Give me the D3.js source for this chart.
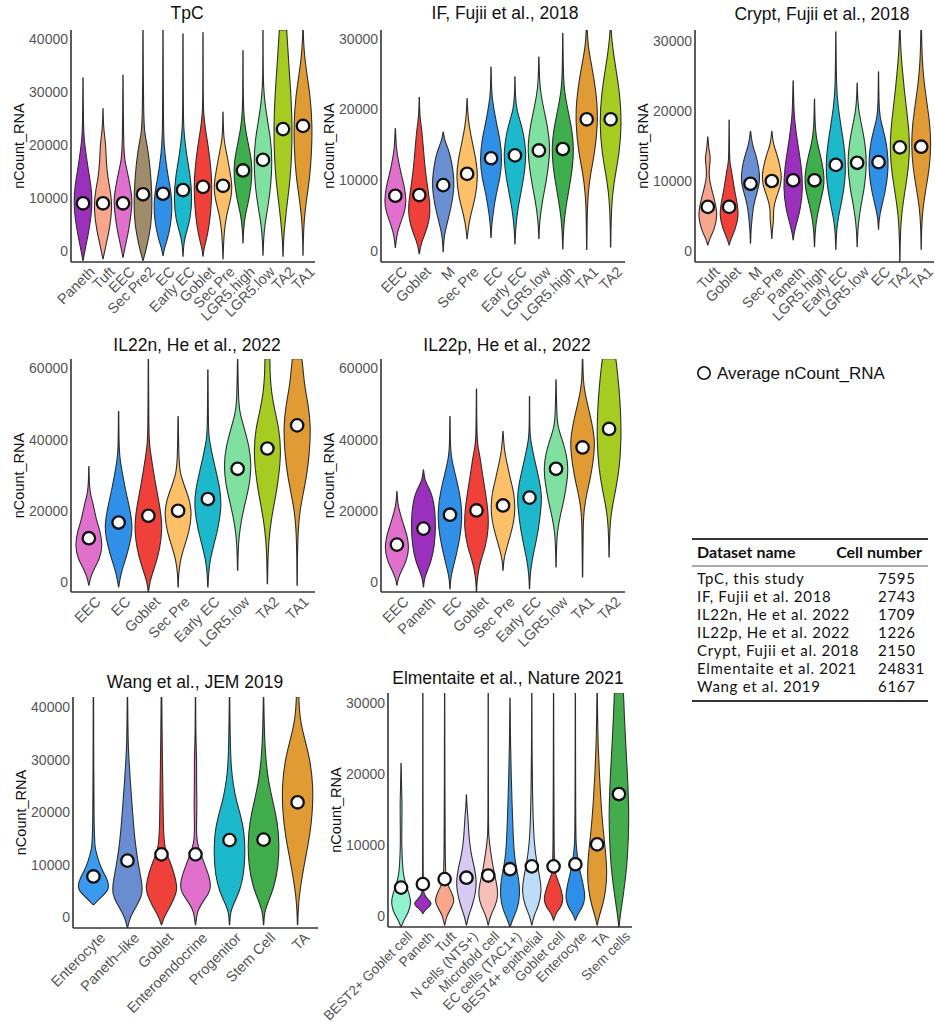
<!DOCTYPE html>
<html>
<head>
<meta charset="utf-8">
<script src="https://cdn.jsdelivr.net/npm/d3@7"></script>
<style>
  body { margin: 0; background: #fff; }
</style>
</head>
<body>
<div id="chart"></div>
<script>
// ---- data ----
// each violin: list of [nCount_RNA, relative half-width]

const tpcCells = ["Paneth", "Tuft", "EEC", "Sec Pre2", "EC", "Early EC", "Goblet", "Sec Pre", "LGR5.high", "LGR5.low", "TA2", "TA1"];
const tpcMeans = [9000, 9000, 9000, 10700, 10800, 11500, 12100, 12300, 15200, 17200, 23000, 23600];
const tpcShapes = [
  [[-1800,0],[0,0.2],[3000,0.55],[6000,0.85],[9000,1],[12000,0.9],[15000,0.6],[18000,0.35],[21000,0.12],[24000,0.04],[32700,0.01]],
  [[-1500,0],[1000,0.3],[4000,0.7],[8000,1],[11000,0.85],[14000,0.5],[17000,0.35],[20000,0.3],[22000,0.15],[24000,0.04],[26900,0.01]],
  [[-1200,0],[1000,0.25],[4000,0.65],[8000,0.95],[10000,1],[13000,0.7],[15500,0.4],[17000,0.2],[20000,0.05],[33200,0.01]],
  [[-1800,0],[1000,0.45],[5000,0.9],[9000,1],[13000,0.9],[17000,0.7],[20000,0.45],[22000,0.2],[25000,0.05],[41700,0.01]],
  [[-900,0],[500,0.15],[2000,0.45],[5000,0.85],[8000,1],[11000,0.9],[14000,0.55],[17000,0.3],[20000,0.12],[23000,0.04],[41700,0.01]],
  [[-1000,0],[1500,0.08],[3500,0.35],[6000,0.8],[10000,1],[14000,0.8],[17000,0.5],[20000,0.25],[23000,0.08],[26000,0.03],[41000,0.01]],
  [[-1000,0],[500,0.1],[3000,0.5],[7000,0.85],[12000,1],[16000,0.85],[20000,0.55],[23000,0.25],[26000,0.06],[29000,0.02],[41200,0.01]],
  [[-1500,0],[1000,0.05],[4000,0.15],[7000,0.4],[10000,0.9],[12500,1],[15000,0.75],[18000,0.45],[20000,0.2],[22000,0.05],[26200,0.01]],
  [[1500,0],[4000,0.05],[7000,0.25],[10000,0.7],[14000,1],[17000,0.95],[20000,0.6],[23000,0.25],[26000,0.07],[30000,0.02],[37800,0.01]],
  [[-800,0],[2000,0.05],[5000,0.2],[8000,0.5],[12000,0.85],[17000,1],[21000,0.85],[25000,0.45],[28000,0.2],[31000,0.06],[34000,0.02],[41700,0.01]],
  [[-1000,0],[2000,0.05],[5000,0.2],[9000,0.45],[13000,0.75],[18000,0.95],[24000,1],[30000,0.85],[36000,0.6],[41700,0.4]],
  [[-800,0],[2000,0.03],[6000,0.12],[10000,0.4],[14000,0.75],[19000,0.95],[24000,1],[29000,0.8],[33000,0.45],[37000,0.15],[40000,0.05],[41700,0.03]]
];

const ifCells = ["EEC", "Goblet", "M", "Sec Pre", "EC", "Early EC", "LGR5.low", "LGR5.high", "TA1", "TA2"];
const ifMeans = [7800, 7900, 9300, 10900, 13100, 13500, 14200, 14400, 18600, 18600];
const ifShapes = [
  [[500,0],[2000,0.1],[3500,0.35],[5500,0.85],[7000,1],[9000,0.85],[11000,0.5],[13000,0.25],[14500,0.08],[17300,0.01]],
  [[-400,0],[1000,0.15],[2500,0.55],[4500,0.95],[6500,1],[9000,0.75],[12000,0.5],[15000,0.35],[17500,0.2],[19000,0.04],[21700,0.01]],
  [[-100,0],[1500,0.05],[3000,0.2],[5000,0.55],[8000,0.95],[10000,1],[12500,0.8],[14500,0.45],[15500,0.15],[16800,0.01]],
  [[1750,0],[3000,0.08],[5000,0.3],[7500,0.75],[10500,1],[13000,0.8],[15500,0.45],[17500,0.2],[19500,0.05],[21550,0.01]],
  [[1900,0],[3500,0.05],[5500,0.2],[8000,0.45],[10500,0.85],[13000,1],[15500,0.85],[18000,0.5],[20500,0.2],[22500,0.04],[26000,0.01]],
  [[1000,0],[3000,0.05],[6000,0.25],[9000,0.65],[12000,0.95],[14000,1],[16500,0.8],[18500,0.45],[20000,0.15],[22000,0.03],[24600,0.01]],
  [[1750,0],[4000,0.05],[7000,0.3],[10000,0.7],[13000,0.95],[15000,1],[17500,0.8],[20000,0.45],[22000,0.2],[24000,0.05],[27400,0.01]],
  [[300,0],[3000,0.05],[6000,0.25],[9000,0.6],[12000,0.9],[14500,1],[17000,0.85],[20000,0.45],[22500,0.15],[25000,0.04],[30750,0.01]],
  [[200,0],[4000,0.03],[8000,0.1],[11000,0.35],[14000,0.75],[18000,1],[21000,0.95],[24000,0.7],[27000,0.35],[29000,0.12],[31300,0.04]],
  [[570,0],[4000,0.03],[8000,0.15],[11000,0.45],[14000,0.8],[18000,1],[22000,0.85],[25500,0.5],[28000,0.25],[30000,0.1],[31300,0.05]]
];

const cryptCells = ["Tuft", "Goblet", "M", "Sec Pre", "Paneth", "LGR5.high", "Early EC", "LGR5.low", "EC", "TA2", "TA1"];
const cryptMeans = [6300, 6300, 9600, 10000, 10100, 10100, 12300, 12600, 12700, 14800, 14900];
const cryptShapes = [
  [[860,0],[1800,0.2],[3000,0.65],[5000,1],[7000,0.75],[9000,0.35],[10500,0.12],[12000,0.15],[13300,0.3],[14500,0.1],[16300,0.01]],
  [[860,0],[1800,0.2],[3000,0.6],[5000,1],[7000,0.8],[9000,0.5],[11000,0.3],[12500,0.08],[14000,0.03],[18700,0.01]],
  [[1100,0],[3000,0.05],[4500,0.15],[6500,0.3],[8000,0.6],[10000,1],[12000,0.85],[14000,0.5],[15000,0.2],[17100,0.01]],
  [[1800,0],[3000,0.05],[4500,0.2],[6000,0.15],[7500,0.4],[9500,0.95],[11000,1],[13000,0.7],[14500,0.35],[15500,0.12],[17100,0.01]],
  [[1570,0],[2500,0.08],[4000,0.35],[6000,0.75],[9000,1],[12000,0.85],[15000,0.5],[17500,0.25],[19500,0.08],[24300,0.01]],
  [[620,0],[2500,0.05],[4500,0.2],[6500,0.5],[9000,0.95],[10500,1],[12500,0.8],[14500,0.45],[16000,0.2],[18000,0.05],[21700,0.01]],
  [[240,0],[2500,0.05],[4500,0.2],[7000,0.6],[10000,0.95],[12500,1],[15000,0.85],[18000,0.5],[20500,0.25],[23000,0.05],[31300,0.01]],
  [[620,0],[3000,0.05],[6000,0.3],[9000,0.75],[12500,1],[15500,0.8],[18000,0.45],[20000,0.15],[22000,0.04],[24000,0.01]],
  [[3100,0],[4500,0.05],[6000,0.25],[8500,0.7],[11000,0.95],[13000,1],[15500,0.8],[17500,0.45],[19000,0.15],[21000,0.04],[25600,0.01]],
  [[-1600,0.01],[2000,0.04],[5000,0.15],[8000,0.45],[11000,0.8],[14000,1],[17000,0.95],[20000,0.7],[23000,0.45],[26000,0.25],[28500,0.1],[31600,0.03]],
  [[240,0],[3000,0.03],[6000,0.15],[9000,0.5],[12000,0.85],[15000,1],[18000,0.9],[21000,0.6],[24000,0.3],[27000,0.1],[31600,0.03]]
];

const il22nCells = ["EEC", "EC", "Goblet", "Sec Pre", "Early EC", "LGR5.low", "TA2", "TA1"];
const il22nMeans = [12300, 16700, 18600, 20000, 23300, 31800, 37500, 44000];
const il22nShapes = [
  [[-900,0],[1000,0.1],[3500,0.35],[6500,0.8],[10000,1],[14000,0.85],[18000,0.5],[21500,0.35],[24000,0.15],[27000,0.03],[32400,0.01]],
  [[-1400,0],[1000,0.1],[4000,0.3],[8000,0.65],[13000,0.95],[16000,1],[20000,0.85],[25000,0.55],[30000,0.3],[34000,0.12],[37000,0.03],[47900,0.01]],
  [[-2800,0.01],[0,0.1],[3000,0.35],[7000,0.7],[12000,0.95],[17000,1],[22000,0.8],[28000,0.5],[34000,0.25],[38000,0.1],[41000,0.03],[62700,0.01]],
  [[-1400,0],[2000,0.03],[6000,0.15],[10000,0.45],[14000,0.8],[19000,1],[23000,0.85],[27000,0.45],[30000,0.2],[33000,0.05],[46500,0.01]],
  [[-1400,0],[2000,0.04],[6000,0.15],[10000,0.4],[15000,0.75],[21000,1],[26000,0.9],[31000,0.6],[36000,0.3],[40000,0.1],[43000,0.03],[59600,0.01]],
  [[3300,0],[8000,0.03],[13000,0.1],[18000,0.3],[23000,0.6],[28000,0.9],[33000,1],[38000,0.85],[43000,0.5],[47000,0.2],[50000,0.06],[62700,0.01]],
  [[-500,0],[5000,0.03],[12000,0.1],[18000,0.3],[24000,0.6],[30000,0.85],[37000,1],[43000,0.85],[48000,0.55],[53000,0.3],[58000,0.2],[62700,0.18]],
  [[-900,0],[8000,0.02],[15000,0.08],[20000,0.2],[25000,0.45],[30000,0.7],[36000,0.9],[44000,1],[50000,0.8],[55000,0.55],[59000,0.45],[62700,0.35]]
];

const il22pCells = ["EEC", "Paneth", "EC", "Goblet", "Sec Pre", "Early EC", "LGR5.low", "TA1", "TA2"];
const il22pMeans = [10500, 15000, 18900, 20100, 21500, 23700, 31800, 37800, 43000];
const il22pShapes = [
  [[-900,0],[1000,0.1],[3000,0.35],[6000,0.8],[9500,1],[13000,0.85],[16500,0.5],[19500,0.25],[22000,0.06],[25400,0.01]],
  [[-1400,0],[1000,0.08],[3000,0.3],[6000,0.65],[10000,0.9],[15000,1],[20000,0.95],[24000,0.75],[26500,0.45],[28500,0.1],[31500,0.01]],
  [[-1900,0],[1000,0.05],[4000,0.25],[8000,0.55],[13000,0.85],[18000,1],[23000,0.9],[28000,0.6],[32000,0.3],[35000,0.12],[38000,0.03],[46500,0.01]],
  [[-2800,0.01],[0,0.04],[3000,0.15],[6000,0.35],[10000,0.75],[15000,1],[20000,0.95],[25000,0.75],[30000,0.5],[35000,0.3],[38000,0.12],[41000,0.03],[54200,0.01]],
  [[3300,0],[6000,0.05],[9000,0.25],[13000,0.6],[17000,0.9],[21000,1],[25000,0.9],[29000,0.6],[33000,0.35],[37000,0.1],[42300,0.01]],
  [[-1900,0],[2000,0.05],[6000,0.2],[10000,0.45],[15000,0.75],[21000,0.95],[24000,1],[28000,0.85],[33000,0.5],[37000,0.25],[40000,0.08],[43000,0.02],[52100,0.01]],
  [[4200,0],[9000,0.03],[14000,0.1],[18000,0.3],[23000,0.65],[28000,0.9],[32000,1],[36000,0.85],[40000,0.5],[43000,0.2],[46000,0.06],[56800,0.01]],
  [[1400,0],[8000,0.03],[15000,0.05],[20000,0.1],[25000,0.35],[30000,0.7],[36000,0.95],[40000,1],[45000,0.75],[50000,0.4],[54000,0.15],[57000,0.05],[62700,0.02]],
  [[7000,0],[12000,0.03],[17000,0.1],[21000,0.25],[26000,0.55],[32000,0.85],[40000,1],[48000,0.95],[55000,0.8],[60000,0.65],[62700,0.55]]
];

const wangCells = ["Enterocyte", "Paneth\u2013like", "Goblet", "Enteroendocrine", "Progenitor", "Stem Cell", "TA"];
const wangMeans = [7800, 10800, 12000, 12000, 14700, 14800, 21900];
const wangShapes = [
  [[2400,0],[3000,0.2],[4000,0.55],[5000,0.9],[6000,1],[7500,0.85],[9000,0.55],[11000,0.3],[13000,0.12],[15000,0.03],[42000,0.01]],
  [[-2000,0.01],[0,0.15],[2000,0.55],[4500,1],[7000,0.9],[10000,0.7],[14000,0.5],[18000,0.38],[22000,0.28],[26000,0.18],[30000,0.1],[33000,0.04],[42000,0.01]],
  [[-1400,0],[0,0.15],[2000,0.55],[4500,0.95],[6000,1],[8500,0.8],[11000,0.5],[13000,0.2],[17000,0.12],[22000,0.1],[28000,0.07],[35000,0.04],[42000,0.02]],
  [[-1400,0],[1000,0.1],[2500,0.35],[4500,0.85],[6000,1],[8000,0.85],[10000,0.6],[12000,0.35],[14000,0.1],[17000,0.05],[21000,0.1],[26000,0.06],[30000,0.08],[34000,0.02],[42000,0.01]],
  [[-1400,0],[1000,0.05],[2500,0.25],[5000,0.65],[8000,0.9],[12000,1],[16000,0.95],[19000,0.75],[22000,0.45],[25000,0.25],[28000,0.12],[32000,0.05],[42000,0.01]],
  [[-1400,0],[1000,0.05],[3000,0.3],[6000,0.7],[10000,0.95],[14000,1],[18000,0.9],[22000,0.6],[26000,0.3],[30000,0.15],[34000,0.06],[42000,0.01]],
  [[-1400,0],[1000,0.03],[4000,0.1],[8000,0.3],[12000,0.55],[16000,0.8],[20000,0.95],[25000,1],[30000,0.8],[34000,0.45],[37000,0.2],[40000,0.1],[42000,0.08]]
];

const elmCells = ["BEST2+ Goblet cell", "Paneth", "Tuft", "N cells (NTS+)", "Microfold cell", "EC cells (TAC1+)", "BEST4+ epithelial", "Goblet cell", "Enterocyte ", "TA ", "Stem cells"];
const elmMeans = [4000, 4500, 5200, 5400, 5700, 6600, 7000, 7000, 7300, 10100, 17200];
const elmShapes = [
  [[-1560,0],[-500,0.3],[500,0.75],[1800,1],[3000,0.85],[4500,0.45],[6000,0.2],[8000,0.12],[10000,0.06],[13000,0.08],[16000,0.1],[18000,0.05],[21550,0.01]],
  [[330,0],[800,0.2],[1400,0.7],[1800,0.9],[2300,0.55],[2800,0.2],[3500,0.05],[5000,0.02],[31500,0.01]],
  [[-1300,0],[0,0.2],[1000,0.6],[2000,1],[3000,0.8],[4000,0.45],[5000,0.15],[6000,0.04],[31500,0.01]],
  [[-1300,0],[0,0.2],[1500,0.6],[3500,0.95],[5000,1],[6500,0.85],[8500,0.5],[10500,0.3],[12500,0.2],[14000,0.15],[15500,0.05],[17100,0.01]],
  [[-1300,0],[0,0.2],[1500,0.75],[3000,1],[4500,0.85],[6000,0.6],[8000,0.35],[10000,0.15],[11500,0.05],[13000,0.02],[31500,0.01]],
  [[-1560,0.02],[-500,0.25],[1000,0.75],[3000,1],[5000,0.9],[7000,0.6],[9000,0.4],[12000,0.3],[16000,0.2],[20000,0.12],[24000,0.05],[30750,0.01]],
  [[-1300,0],[0,0.2],[1500,0.7],[3500,1],[5500,0.8],[7500,0.5],[10000,0.25],[14000,0.12],[18000,0.07],[22000,0.03],[31500,0.01]],
  [[-600,0],[300,0.2],[1200,0.7],[2200,1],[3500,0.8],[5000,0.45],[6000,0.15],[7000,0.04],[31500,0.01]],
  [[-600,0],[300,0.25],[1200,0.7],[2500,1],[4000,0.85],[5500,0.6],[7000,0.35],[8500,0.2],[10000,0.08],[12000,0.03],[31500,0.01]],
  [[-1300,0],[0,0.2],[1500,0.55],[3500,0.85],[6000,1],[9000,0.85],[12000,0.6],[16000,0.38],[20000,0.22],[24000,0.1],[28000,0.04],[31500,0.02]],
  [[-1560,0.02],[0,0.12],[3000,0.45],[7000,0.8],[11000,0.95],[15000,1],[20000,0.85],[25000,0.65],[28000,0.55],[31500,0.45]]
];

const ticks30k = [0, 10000, 20000, 30000];
const ticks40k = [0, 10000, 20000, 30000, 40000];
const ticks60k = [0, 20000, 40000, 60000];

const tableNames = ["TpC, this study", "IF, Fujii et al. 2018", "IL22n, He et al. 2022", "IL22p, He et al. 2022",
                    "Crypt, Fujii et al. 2018", "Elmentaite et al. 2021", "Wang et al. 2019"];
const tableCounts = [7595, 2743, 1709, 1226, 2150, 24831, 6167];

// colours per cell type
const cellColors = {
  "Paneth": "#9a30bc", "Tuft": "#f7a68c", "EEC": "#e070cc", "Sec Pre2": "#a08b6b",
  "EC": "#3090e8", "Early EC": "#1cb8cc", "Goblet": "#f0403a", "Sec Pre": "#fcc068",
  "LGR5.high": "#3fae4c", "LGR5.low": "#80e0a0", "TA2": "#a6cc22", "TA1": "#e09b35", "M": "#6a8fd2",
  "Enterocyte": "#3a9af0", "Paneth\u2013like": "#6a8cd0", "Enteroendocrine": "#e070cc",
  "Progenitor": "#1cb8cc", "Stem Cell": "#40ac4c", "TA": "#e09b35",
  "BEST2+ Goblet cell": "#8ef3cc", "N cells (NTS+)": "#d8c8f4", "Microfold cell": "#f6c0b8",
  "EC cells (TAC1+)": "#3a98e8", "BEST4+ epithelial": "#bcdcf8", "Goblet cell": "#f0403a",
  "Enterocyte ": "#2e8fe8", "TA ": "#e09b35", "Stem cells": "#44ac4c"
};

// panel placement (pixels) and axis ranges
const panels = [
  {title: "TpC", cells: tpcCells, means: tpcMeans, shapes: tpcShapes, ticks: ticks40k,
   x0: 71, x1: 315, y0: 30, y1: 262, domain: [-2075, 41700], titleX: 187, titleY: 19, labelSize: 14.5},
  {title: "IF, Fujii et al., 2018", cells: ifCells, means: ifMeans, shapes: ifShapes, ticks: ticks30k,
   x0: 381, x1: 625, y0: 30, y1: 262, domain: [-1556, 31216], titleX: 505, titleY: 19, labelSize: 14.5},
  {title: "Crypt, Fujii et al., 2018", cells: cryptCells, means: cryptMeans, shapes: cryptShapes, ticks: ticks30k,
   x0: 695, x1: 934, y0: 30, y1: 262, domain: [-1570, 31570], titleX: 822, titleY: 20, labelSize: 14.5},
  {title: "IL22n, He et al., 2022", cells: il22nCells, means: il22nMeans, shapes: il22nShapes, ticks: ticks60k,
   x0: 71, x1: 315, y0: 359, y1: 592, domain: [-2817, 62648], titleX: 197, titleY: 351, labelSize: 14.5},
  {title: "IL22p, He et al., 2022", cells: il22pCells, means: il22pMeans, shapes: il22pShapes, ticks: ticks60k,
   x0: 381, x1: 625, y0: 359, y1: 592, domain: [-2817, 62648], titleX: 507, titleY: 351, labelSize: 14.5},
  {title: "Wang et al., JEM 2019", cells: wangCells, means: wangMeans, shapes: wangShapes, ticks: ticks40k,
   x0: 73, x1: 318, y0: 697, y1: 928, domain: [-2011, 41935], titleX: 195, titleY: 688, labelSize: 14.5},
  {title: "Elmentaite et al., Nature 2021", cells: elmCells, means: elmMeans, shapes: elmShapes, ticks: ticks30k,
   x0: 388, x1: 632, y0: 693, y1: 927, domain: [-1556, 31456], titleX: 508, titleY: 684, labelSize: 13.6}
];

const svg = d3.select("#chart").append("svg")
  .attr("width", 935)
  .attr("height", 1022)
  .style("font-family", "'Liberation Sans', Arial, Helvetica, sans-serif");

svg.append("rect").attr("width", 935).attr("height", 1022).attr("fill", "#fff");

panels.forEach(function (p, pi) {
  const x = d3.scalePoint().domain(p.cells).range([p.x0, p.x1]).padding(0.6);
  const y = d3.scaleLinear().domain(p.domain).range([p.y1, p.y0]);
  const hw = x.step() * 0.46;

  const g = svg.append("g").attr("class", "panel");

  // clip violins to the plotting area
  const clipId = "clip" + pi;
  svg.append("clipPath").attr("id", clipId)
    .append("rect")
    .attr("x", p.x0).attr("y", p.y0)
    .attr("width", p.x1 - p.x0 + 20).attr("height", p.y1 - p.y0);

  const violins = g.append("g").attr("clip-path", `url(#${clipId})`);

  p.cells.forEach(function (cell, i) {
    const cx = x(cell);
    const area = d3.area()
      .y(d => y(d[0]))
      .x0(d => cx - Math.max(d[1], 0.012) * hw)
      .x1(d => cx + Math.max(d[1], 0.012) * hw)
      .curve(d3.curveBasis);
    violins.append("path")
      .datum(p.shapes[i])
      .attr("d", area)
      .attr("fill", cellColors[cell])
      .attr("stroke", "#2e2e2e")
      .attr("stroke-width", 1.1)
      .attr("stroke-linejoin", "round");
  });

  // axes (lines only, no ticks)
  g.append("line")
    .attr("x1", p.x0).attr("x2", p.x0).attr("y1", p.y0).attr("y2", p.y1)
    .attr("stroke", "#333").attr("stroke-width", 1.6);
  g.append("line")
    .attr("x1", p.x0).attr("x2", p.x1).attr("y1", p.y1).attr("y2", p.y1)
    .attr("stroke", "#333").attr("stroke-width", 1.6);

  // y tick labels
  g.selectAll(".ytick")
    .data(p.ticks)
    .enter()
    .append("text")
    .attr("class", "ytick")
    .attr("x", p.x0 - 3)
    .attr("y", d => y(d))
    .attr("dy", "0.36em")
    .attr("text-anchor", "end")
    .attr("font-size", 14)
    .attr("fill", "#555")
    .text(d => d);

  // x tick labels
  g.selectAll(".xtick")
    .data(p.cells)
    .enter()
    .append("text")
    .attr("class", "xtick")
    .attr("transform", d => `translate(${x(d) + 5}, ${p.y1 + 3}) rotate(-45)`)
    .attr("dy", "0.75em")
    .attr("text-anchor", "end")
    .attr("font-size", p.labelSize)
    .attr("fill", "#555")
    .text(d => d.trim());

  // y axis title
  g.append("text")
    .attr("transform", `translate(${p.x0 - 52}, ${(p.y0 + p.y1) / 2}) rotate(-90)`)
    .attr("dy", "0.35em")
    .attr("text-anchor", "middle")
    .attr("font-size", 14.5)
    .attr("fill", "#111")
    .text("nCount_RNA");

  // title
  g.append("text")
    .attr("x", p.titleX)
    .attr("y", p.titleY)
    .attr("text-anchor", "middle")
    .attr("font-size", 17.5)
    .attr("fill", "#111")
    .text(p.title);

  // mean points
  g.selectAll(".mean")
    .data(p.means)
    .enter()
    .append("circle")
    .attr("class", "mean")
    .attr("cx", (d, i) => x(p.cells[i]))
    .attr("cy", d => y(d))
    .attr("r", 6.2)
    .attr("fill", "#fff")
    .attr("stroke", "#111")
    .attr("stroke-width", 2.3);
});

// legend
const legend = svg.append("g").attr("transform", "translate(704, 373)");
legend.append("circle")
  .attr("r", 6.2)
  .attr("fill", "#fff")
  .attr("stroke", "#111")
  .attr("stroke-width", 1.6);
legend.append("text")
  .attr("x", 13)
  .attr("dy", "0.36em")
  .attr("font-size", 17)
  .attr("fill", "#111")
  .text("Average nCount_RNA");

// table of cell numbers
const table = svg.append("g")
  .style("font-family", "Lato, 'Open Sans', sans-serif");
const rowY = d3.scaleLinear().domain([0, 1]).range([579, 597]);

table.append("line").attr("x1", 692).attr("x2", 928).attr("y1", 539).attr("y2", 539)
  .attr("stroke", "#333").attr("stroke-width", 2);
table.append("line").attr("x1", 692).attr("x2", 928).attr("y1", 566).attr("y2", 566)
  .attr("stroke", "#555").attr("stroke-width", 1.2);
table.append("line").attr("x1", 692).attr("x2", 928).attr("y1", 701).attr("y2", 701)
  .attr("stroke", "#333").attr("stroke-width", 2);

table.append("text").attr("x", 697).attr("y", 552).attr("dy", "0.35em")
  .attr("font-size", 16).attr("font-weight", "bold").attr("fill", "#111").text("Dataset name");
table.append("text").attr("x", 922).attr("y", 552).attr("dy", "0.35em")
  .attr("text-anchor", "end")
  .attr("font-size", 16).attr("font-weight", "bold").attr("fill", "#111").text("Cell number");

table.selectAll(".row-name")
  .data(tableNames)
  .enter()
  .append("text")
  .attr("class", "row-name")
  .attr("x", 697)
  .attr("y", (d, i) => rowY(i))
  .attr("dy", "0.35em")
  .attr("font-size", 15)
  .attr("letter-spacing", 0.7)
  .attr("fill", "#111")
  .text(d => d);

table.selectAll(".row-count")
  .data(tableCounts)
  .enter()
  .append("text")
  .attr("class", "row-count")
  .attr("x", 878)
  .attr("y", (d, i) => rowY(i))
  .attr("dy", "0.35em")
  .attr("font-size", 15)
  .attr("letter-spacing", 0.7)
  .attr("fill", "#111")
  .text(d => d);
</script>
</body>
</html>
